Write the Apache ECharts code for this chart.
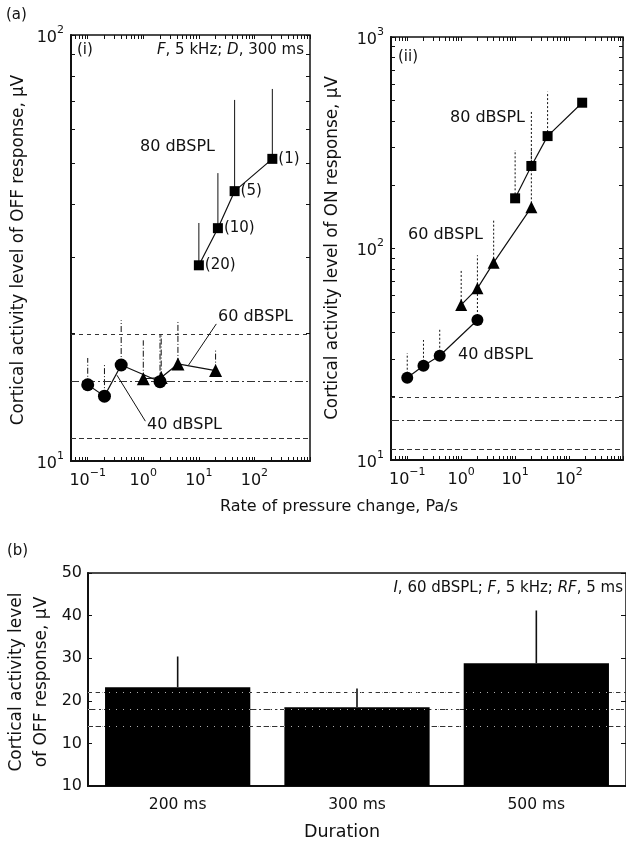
<!DOCTYPE html>
<html><head><meta charset="utf-8">
<script src="https://cdn.jsdelivr.net/npm/echarts@6/dist/echarts.min.js"></script>
<style>html,body{margin:0;padding:0;background:#fff}#c{width:626px;height:843px}</style>
</head><body><div id="c"></div>
<script>
// ---------- Panel (a)(i): OFF response vs rate of pressure change ----------
const offRate40 = [0.1, 0.2, 0.4, 2];
const offVal40  = [15.1, 14.2, 16.8, 15.35];
const offErr40  = [17.45, 16.8, 21.4, 19.8];
const offRate60 = [1, 2.1, 4.2, 20];
const offVal60  = [15.6, 15.7, 16.9, 16.3];
const offErr60  = [19.2, 19.8, 21.2, 18.2];
const offRate80 = [10, 22, 44, 210];
const offVal80  = [28.8, 35.2, 43.0, 51.2];
const offErr80  = [36.2, 47.4, 70.4, 74.7];
const offPointLabels80 = ['(20)', '(10)', '(5)', '(1)'];
// ---------- Panel (a)(ii): ON response ----------
const onRate40 = [0.1, 0.2, 0.4, 2];
const onVal40  = [24.5, 27.9, 31.1, 45.9];
const onErr40  = [32, 36.9, 42, 61.6];
const onRate60 = [1, 2, 4, 20];
const onVal60  = [54.1, 64.8, 85.7, 156.6];
const onErr60  = [79, 93, 136, 292];
const onRate80 = [10, 20, 40, 175];
const onVal80  = [172.7, 245.6, 340, 489];
const onErr80  = [292, 444, 551, null];
const refLevelsA = [19.8, 15.4, 11.3];
// ---------- Panel (b): OFF response vs duration ----------
const durations = ['200 ms', '300 ms', '500 ms'];
const durVal = [23.2, 18.5, 28.8];
const durErr = [30.4, 22.9, 41.2];
const refLevelsB = [22.1, 18.0, 14.1];
// ---------- tick labels ----------
const xTickExp = ['−1', '0', '1', '2'];
const yTickExpI = ['1', '2'];
const yTickExpII = ['1', '2', '3'];
const yTickLabelsB = ['10', '10', '20', '30', '40', '50'];

const FONT = 'DejaVu Sans';
const INK = '#111';

function zip(a, b, c) { return a.map((v, i) => c ? [v, b[i], c[i]] : [v, b[i]]); }
function logLabel(exps) {
  return function (v) {
    const l = Math.log10(v), e = Math.round(l);
    if (Math.abs(l - e) > 1e-6) return '';
    const s = String(e).replace('-', '−');
    return exps.indexOf(s) < 0 ? '' : '{b|10}{s|' + s + '}';
  };
}
const supRich = {
  b: { fontSize: 16, fontFamily: FONT, color: INK, verticalAlign: 'bottom', lineHeight: 21 },
  s: { fontSize: 11, fontFamily: FONT, color: INK, verticalAlign: 'top', lineHeight: 21 }
};
function logTicks(lo, hi) {
  const out = [];
  for (let e = lo; e < hi; e++) for (let m = 1; m < 10; m++) out.push(m * Math.pow(10, e));
  out.push(Math.pow(10, hi));
  return out;
}
function logAxis(gridIndex, min, max, labels, pos, ticks, show) {
  return {
    type: 'log', logBase: 10, gridIndex, min, max, position: pos,
    axisLine: { show: show, lineStyle: { color: INK, width: 2 } },
    axisTick: { show: true, inside: true, length: 4, customValues: ticks, lineStyle: { color: INK, width: 1 } },
    axisLabel: show ? { formatter: logLabel(labels), rich: supRich, margin: 7, color: INK } : { show: false },
    splitLine: { show: false }
  };
}
function errSeries(xi, yi, data, dash, z, width) {
  return {
    type: 'custom', xAxisIndex: xi, yAxisIndex: yi, z: z || 2, silent: true,
    data: data,
    encode: { x: 0, y: [1, 2] },
    renderItem: function (params, api) {
      const top = api.value(2);
      if (top == null || isNaN(top)) return null;
      const p0 = api.coord([api.value(0), api.value(1)]);
      const p1 = api.coord([api.value(0), top]);
      return { type: 'line', shape: { x1: p0[0], y1: p0[1], x2: p1[0], y2: p1[1] },
               style: { stroke: '#111', lineWidth: width || 1, lineDash: dash } };
    }
  };
}
const refStyles = [
  { type: [4, 4], color: '#333', width: 1 },
  { type: [8, 3, 2, 3], color: '#333', width: 1 },
  { type: [5, 3], color: '#333', width: 1 }
];
function refMarkLine(levels, z, styles) {
  return {
    silent: true, symbol: ['none', 'none'], label: { show: false }, z: z,
    data: levels.map((v, i) => ({ yAxis: v, lineStyle: styles[i] }))
  };
}
function lineSeries(xi, yi, data, symbol, size, extra) {
  return Object.assign({
    type: 'line', xAxisIndex: xi, yAxisIndex: yi, data: data, symbol: symbol, symbolSize: size,
    z: 4, lineStyle: { color: INK, width: 1.2 }, itemStyle: { color: '#000' }
  }, extra || {});
}
const leader = { type: 'solid', color: INK, width: 1 };

const xTicksA = logTicks(-2, 3).filter(v => v >= 0.05);
const yTicksI = logTicks(1, 2);
const yTicksII = logTicks(1, 3);

function txt(x, y, text, size, opts) {
  return Object.assign({ type: 'text', x: x, y: y,
    style: Object.assign({ text: text, fontSize: size, fontFamily: FONT, fill: INK, align: 'left', verticalAlign: 'middle' }, (opts && opts.style) || {}) },
    (opts && opts.rotation) ? { rotation: opts.rotation } : {});
}
const italicRich = { i: { fontStyle: 'italic', fontSize: 15, fontFamily: FONT, fill: INK } };

const chart = echarts.init(document.getElementById('c'), null, { renderer: 'canvas' });
chart.setOption({
  animation: false,
  textStyle: { fontFamily: FONT },
  grid: [
    { left: 71, top: 35, width: 239, height: 426, show: true, borderColor: INK, borderWidth: 1.5 },
    { left: 391, top: 37, width: 244, height: 423, show: true, borderColor: INK, borderWidth: 1.5 },
    { left: 88, top: 573, width: 543, height: 213, show: true, borderColor: INK, borderWidth: 1.5 }
  ],
  xAxis: [
    logAxis(0, 0.05, 1000, xTickExp, 'bottom', xTicksA, true),
    logAxis(0, 0.05, 1000, xTickExp, 'top', xTicksA, false),
    logAxis(1, 0.05, 1000, xTickExp, 'bottom', xTicksA, true),
    logAxis(1, 0.05, 1000, xTickExp, 'top', xTicksA, false),
    { type: 'category', gridIndex: 2, data: durations,
      axisLine: { lineStyle: { color: INK, width: 2 } }, axisTick: { show: false },
      axisLabel: { color: INK, fontSize: 15.5, fontFamily: FONT, margin: 11 } }
  ],
  yAxis: [
    logAxis(0, 10, 100, yTickExpI, 'left', yTicksI, true),
    logAxis(0, 10, 100, yTickExpI, 'right', yTicksI, false),
    logAxis(1, 10, 1000, yTickExpII, 'left', yTicksII, true),
    logAxis(1, 10, 1000, yTickExpII, 'right', yTicksII, false),
    { type: 'value', gridIndex: 2, min: 0, max: 50, interval: 10, position: 'left',
      axisLine: { show: true, lineStyle: { color: INK, width: 2 } },
      axisTick: { show: true, inside: true, length: 4, lineStyle: { color: INK } },
      splitLine: { show: false },
      axisLabel: { color: INK, fontSize: 16, fontFamily: FONT, margin: 6,
                   formatter: v => yTickLabelsB[Math.round(v / 10)] } },
    { type: 'value', gridIndex: 2, min: 0, max: 50, interval: 10, position: 'right',
      axisLine: { show: false }, axisTick: { show: true, inside: true, length: 5, lineStyle: { color: INK } },
      splitLine: { show: false }, axisLabel: { show: false } }
  ],
  series: [
    // panel (i)
    errSeries(0, 0, zip(offRate40, offVal40, offErr40), [6, 2, 1, 2]),
    errSeries(0, 0, zip(offRate60, offVal60, offErr60), [6, 2, 1, 2]),
    errSeries(0, 0, zip(offRate80, offVal80, offErr80), null),
    lineSeries(0, 0, zip(offRate40, offVal40), 'circle', 13, {
      markLine: {
        silent: true, symbol: ['none', 'none'], label: { show: false }, z: 3,
        data: refLevelsA.map((v, i) => ({ yAxis: v, lineStyle: refStyles[i] })).concat([
          [{ coord: [20.6, 20.98], lineStyle: leader }, { coord: [6.53, 16.8] }],
          [{ coord: [1.09, 12.4], lineStyle: leader }, { coord: [0.336, 15.9] }]
        ])
      }
    }),
    lineSeries(0, 0, zip(offRate60, offVal60), 'triangle', 13),
    lineSeries(0, 0, zip(offRate80, offVal80), 'rect', 10, {
      label: { show: true, position: 'right', distance: 1, color: INK, fontSize: 15, fontFamily: FONT,
               formatter: p => offPointLabels80[p.dataIndex] }
    }),
    // panel (ii)
    errSeries(2, 2, zip(onRate40, onVal40, onErr40), [2, 2]),
    errSeries(2, 2, zip(onRate60, onVal60, onErr60), [2, 2]),
    errSeries(2, 2, zip(onRate80, onVal80, onErr80), [2, 2]),
    lineSeries(2, 2, zip(onRate40, onVal40), 'circle', 12, { markLine: refMarkLine(refLevelsA, 3, refStyles) }),
    lineSeries(2, 2, zip(onRate60, onVal60), 'triangle', 12),
    lineSeries(2, 2, zip(onRate80, onVal80), 'rect', 10),
    // panel (b)
    { type: 'bar', xAxisIndex: 4, yAxisIndex: 4, data: durVal, barCategoryGap: '19%', z: 2,
      itemStyle: { color: '#000' },
      markLine: refMarkLine(refLevelsB, 1, refStyles) },
    Object.assign(errSeries(4, 4, durations.map((d, i) => [i, durVal[i], durErr[i]]), null, 3, 1.6), {
      markLine: refMarkLine(refLevelsB, 6, refLevelsB.map(() => ({ type: [1, 6], color: '#b0b0b0', width: 1 })))
    })
  ],
  graphic: [
    txt(6, 15, '(a)', 15),
    txt(7, 551, '(b)', 15),
    txt(77, 50, '(i)', 15),
    txt(304, 50, '{i|F}, 5 kHz; {i|D}, 300 ms', 15, { style: { align: 'right', rich: italicRich } }),
    txt(398, 57, '(ii)', 15),
    txt(140, 147, '80 dBSPL', 16),
    txt(218, 317, '60 dBSPL', 16),
    txt(147, 425, '40 dBSPL', 16),
    txt(450, 118, '80 dBSPL', 16),
    txt(408, 235, '60 dBSPL', 16),
    txt(458, 355, '40 dBSPL', 16),
    txt(19, 250, 'Cortical activity level of OFF response, μV', 16.8, { rotation: Math.PI / 2, style: { align: 'center' } }),
    txt(333, 248, 'Cortical activity level of ON response, μV', 16.8, { rotation: Math.PI / 2, style: { align: 'center' } }),
    txt(339, 507, 'Rate of pressure change, Pa/s', 16, { style: { align: 'center' } }),
    txt(29, 682, 'Cortical activity level\nof OFF response, μV', 17, { rotation: Math.PI / 2, style: { align: 'center', lineHeight: 25 } }),
    txt(623, 588, '{i|I}, 60 dBSPL; {i|F}, 5 kHz; {i|RF}, 5 ms', 15, { style: { align: 'right', rich: italicRich } }),
    txt(342, 832, 'Duration', 17.5, { style: { align: 'center' } })
  ]
});
</script></body></html>
